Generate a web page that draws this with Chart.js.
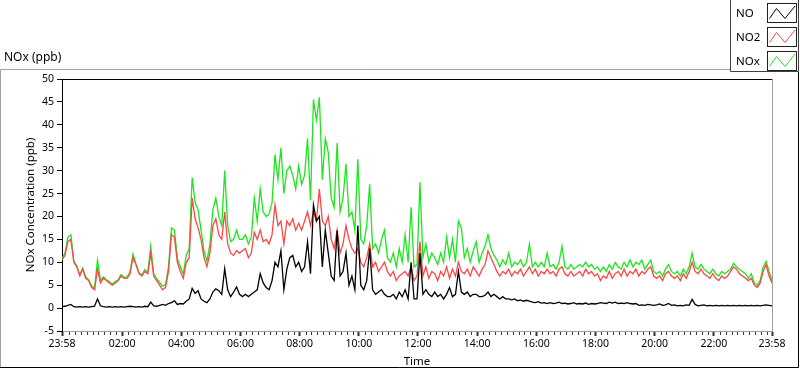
<!DOCTYPE html>
<html>
<head>
<meta charset="utf-8">
<script src="https://cdn.jsdelivr.net/npm/chart.js@4.4.0/dist/chart.umd.min.js"></script>
<style>
  html, body { margin: 0; padding: 0; background: #fff; }
</style>
</head>
<body>
<canvas id="noxChart" width="800" height="369"></canvas>
<script>
// one sample every 6 minutes, starting 23:58
const sampleMinutes = 6;

const tickMinutes = [0, 122, 242, 362, 482, 602, 722, 842, 962, 1082, 1202, 1322, 1440];
const tickLabels = ['23:58', '02:00', '04:00', '06:00', '08:00', '10:00', '12:00',
                    '14:00', '16:00', '18:00', '20:00', '22:00', '23:58'];

const noValues = [
  0.3, 0.4, 0.6, 0.8, 0.3, 0.2, 0.3, 0.2, 0.3, 0.2,
  0.3, 0.4, 2.0, 0.5, 0.3, 0.2, 0.3, 0.2, 0.3, 0.2,
  0.3, 0.2, 0.3, 0.4, 0.3, 0.2, 0.3, 0.2, 0.4, 0.3,
  1.3, 0.5, 0.4, 0.6, 0.8, 0.6, 1.0, 1.2, 1.6, 0.8,
  1.0, 0.9, 1.5, 2.0, 4.3, 3.2, 3.8, 2.0, 1.5, 1.2,
  2.0, 3.5, 4.2, 3.8, 3.0, 8.6, 4.0, 2.5, 3.5, 4.6, 3.0,
  2.5, 3, 2.5, 3, 3.5, 4, 7.5, 5.5, 4.5, 4,
  6, 10, 9, 12.5, 4, 8.5, 11, 11.5, 9, 10,
  8, 9, 14.5, 7.5, 22.5, 19, 20, 9, 17, 12,
  7, 6, 17, 7, 8, 12, 5, 7, 4, 18,
  5, 4, 6, 13, 4, 3, 3.5, 4, 3, 2.5,
  2.5, 3, 2, 3.5, 2.5, 4, 2, 10, 2, 2,
  12, 3, 4, 3, 2.5, 3.5, 2.5, 3, 2, 3,
  4.5, 2.5, 3, 8, 3.5, 3, 3.5, 2.5, 3, 3,
  2.5, 2.5, 2.8, 3.5, 2.5, 3, 2.5, 2, 2.5, 2,
  2, 1.8, 2, 1.6, 1.8, 1.5, 1.7, 1.5, 1.3, 1.2,
  1.4, 1.1, 1.2, 1.0, 1.2, 1.0, 1.1, 1.3, 1.0, 1.1,
  0.9, 1.0, 1.2, 0.9, 1.0, 0.9, 1.1, 0.8, 1.0, 0.9,
  1.0, 1.2, 1.1, 1.0, 1.3, 1.1, 1.3, 1.0, 1.1, 1.0,
  1.2, 1.0, 0.9, 1.0, 0.6, 0.7, 0.6, 0.8, 0.7, 0.6,
  0.7, 0.9, 0.6, 0.7, 1.0, 0.6, 0.7, 0.5, 0.6, 0.5,
  0.7, 0.6, 1.9, 0.8, 0.5, 0.6, 0.7, 0.5, 0.6, 0.5,
  0.6, 0.5, 0.6, 0.5, 0.6, 0.5, 0.6, 0.5, 0.6, 0.5,
  0.6, 0.5, 0.6, 0.5, 0.6, 0.5, 0.6, 0.7, 0.6, 0.5
];

const no2Values = [
  10.5, 11.5, 14.5, 15, 10, 9, 7, 8.5, 6.5, 6,
  4.5, 4, 8.5, 5.5, 6.5, 6, 5.5, 5, 5.5, 6,
  7, 6.5, 6.5, 7.5, 11, 9.5, 7.5, 7, 8, 7.5,
  12, 7, 6, 5, 4, 4.5, 8, 16, 15.5, 10,
  8, 6.5, 10, 11, 24, 19.5, 17.5, 15, 11, 9,
  12, 18, 19.5, 16, 15, 21, 14, 12, 11.5, 12.5, 12,
  12.5, 13, 11, 12, 16.5, 15, 17, 14.5, 15, 14,
  16, 22.5, 18, 19, 14, 19, 18, 19.5, 17, 18.5,
  17, 19, 21, 18, 21, 19, 26, 19, 18, 20,
  15, 13, 17, 12, 14, 18, 15, 13, 12, 13,
  10, 9, 11, 14, 9, 10, 8, 9, 10, 8,
  7, 8, 6, 7, 7.5, 8, 7, 9, 6, 7,
  14.5, 7, 9, 6.5, 8, 7.5, 6, 8, 7, 9,
  6.5, 8.5, 7, 10, 8, 7.5, 8.5, 7, 9, 8,
  7, 8.5, 9.5, 12.5, 11, 9.5, 8, 7, 8, 7.5,
  8.5, 7, 8, 7.5, 8.5, 7, 8, 9, 7.5, 8.5,
  7, 8, 7.5, 8.5, 7.5, 8, 7, 8.5, 9, 7.5,
  7, 8, 7, 7.5, 8, 7, 8.5, 7.5, 8, 7,
  7.5, 6, 7, 6.5, 8, 6.5, 7.5, 8, 7, 8.5,
  7, 8, 7.5, 8.5, 7, 8, 7.5, 8.5, 9, 7,
  6.5, 7, 6, 7.5, 8, 7, 6.5, 7, 6, 7.5,
  6.5, 8, 10, 8, 7.5, 8.5, 7.5, 7, 6.5, 7.5,
  6.5, 6, 7, 6.5, 7, 8, 9, 8.5, 7.5, 7,
  6.5, 6, 6.5, 5, 4.5, 5.5, 8, 9.5, 7, 5.5
];

const noxValues = [
  10.8, 12, 15.5, 16, 10.3, 9.2, 7.3, 8.7, 6.8, 6.2,
  4.8, 4.4, 10.5, 6, 6.8, 6.2, 5.8, 5.2, 5.8, 6.2,
  7.3, 6.7, 6.8, 7.9, 11.8, 9.7, 7.8, 7.2, 8.4, 7.8,
  13.5, 7.5, 6.4, 5.6, 4.8, 5.1, 9, 17.5, 17, 10.8,
  9, 7.4, 11.5, 13, 28.5, 23, 21.5, 17, 12.5, 10.2,
  14, 21.5, 24, 20, 18, 30, 18, 14.5, 15, 17, 15,
  15, 16, 14, 15.5, 24, 19, 26, 21, 20, 20.5,
  23, 33.5, 28, 35, 25, 30, 31, 29, 26, 31,
  27, 29, 37, 23.5, 45.5, 41, 46, 28, 37, 34,
  24, 22, 36, 21, 24, 31.5, 20, 21, 17, 32.5,
  15, 14, 18, 27, 13, 14, 12, 15, 17, 11,
  10, 12, 9, 13, 10, 16, 10, 22, 9, 9.5,
  27.5, 11, 14, 10, 12, 11, 9.5, 12, 10, 15.5,
  11, 15, 10, 19, 17.5, 11, 13, 10, 12.5, 14.5,
  10, 12, 13.5, 16, 13, 11.5, 10.5, 9, 10.5, 9.5,
  12, 9, 10, 9.5, 10.5, 9, 10, 14, 9, 10,
  9, 10, 9, 12, 9, 9.5, 8.5, 10, 13.5, 9,
  8.5, 9.5, 8.5, 9, 9.5, 9, 10, 9, 9.5, 8.5,
  9, 8, 9, 8, 9.5, 8.5, 10, 9, 8.5, 10,
  9, 10.5, 9, 10, 9.5, 10.5, 8.5, 9.5, 10.5, 8,
  7.5, 8, 7, 8.5, 9.5, 8, 7.5, 8, 7, 8.5,
  7.5, 9, 12, 9, 8.5, 9.5, 8.5, 8, 7.5, 8.5,
  7.5, 7, 8, 7.5, 8, 8.5, 9.8, 9, 8.5, 8,
  7.5, 6.5, 7.5, 5.5, 5, 6, 9, 10.2, 8, 6
];

const minutes = noValues.map((_, i) => i * sampleMinutes);

function toPoints(values) {
    return values.map((v, i) => ({ x: minutes[i], y: v }));
}

const fontFamily = '"Noto Sans", "DejaVu Sans", sans-serif';

// outer frame, caption and plot border (LabVIEW style)
const framePlugin = {
    id: 'frame',
    beforeDraw(chart) {
        const ctx = chart.ctx;
        ctx.save();
        ctx.fillStyle = '#ffffff';
        ctx.fillRect(0, 0, chart.width, chart.height);
        ctx.lineWidth = 1;
        ctx.strokeStyle = '#a0a0a0';
        ctx.beginPath();
        ctx.moveTo(0.5, 368);
        ctx.lineTo(0.5, 69.5);
        ctx.lineTo(731, 69.5);
        ctx.stroke();
        ctx.strokeStyle = '#000000';
        ctx.beginPath();
        ctx.moveTo(0, 367.5);
        ctx.lineTo(798.5, 367.5);
        ctx.lineTo(798.5, 70);
        ctx.stroke();
        ctx.fillStyle = '#000000';
        ctx.font = '12px ' + fontFamily;
        ctx.textBaseline = 'middle';
        ctx.textAlign = 'left';
        ctx.fillText('NOx (ppb)', 4, 58);
        ctx.restore();
    },
    afterDraw(chart) {
        const ctx = chart.ctx;
        const a = chart.chartArea;
        ctx.save();
        ctx.lineWidth = 1;
        ctx.strokeStyle = '#000000';
        ctx.beginPath();
        ctx.moveTo(a.left, Math.round(a.top) + 0.5);
        ctx.lineTo(a.right, Math.round(a.top) + 0.5);
        ctx.stroke();
        ctx.strokeStyle = '#a0a0a0';
        ctx.beginPath();
        ctx.moveTo(Math.round(a.right) + 0.5, a.top);
        ctx.lineTo(Math.round(a.right) + 0.5, a.bottom);
        ctx.stroke();
        ctx.restore();
    }
};

// short ticks every 12 minutes between the labelled ones
const minorTickPlugin = {
    id: 'minorTicks',
    afterDraw(chart) {
        const xScale = chart.scales.x;
        const ctx = chart.ctx;
        const y0 = Math.round(xScale.top) + 1;
        ctx.save();
        ctx.strokeStyle = '#333333';
        ctx.lineWidth = 1;
        ctx.beginPath();
        for (let m = 2; m < 1440; m += 12) {
            if (tickMinutes.some(t => Math.abs(t - m) < 4)) continue;
            const px = Math.round(xScale.getPixelForValue(m)) + 0.5;
            ctx.moveTo(px, y0);
            ctx.lineTo(px, y0 + 3);
        }
        ctx.stroke();
        ctx.restore();
    }
};

// legend box at the top right with zigzag swatches
const legendPlugin = {
    id: 'zigzagLegend',
    afterDraw(chart) {
        const ctx = chart.ctx;
        ctx.save();
        ctx.fillStyle = '#ffffff';
        ctx.fillRect(731, 0, 68, 72);
        ctx.strokeStyle = '#404040';
        ctx.lineWidth = 1;
        ctx.beginPath();
        ctx.moveTo(730.5, 0);
        ctx.lineTo(730.5, 71.5);
        ctx.lineTo(798.5, 71.5);
        ctx.lineTo(798.5, 0);
        ctx.stroke();
        chart.data.datasets.forEach((ds, i) => {
            const top = 3 + i * 24;
            ctx.fillStyle = '#000000';
            ctx.font = '11.5px ' + fontFamily;
            ctx.textBaseline = 'middle';
            ctx.textAlign = 'left';
            ctx.fillText(ds.label, 736, top + 10.5);
            ctx.strokeStyle = '#202020';
            ctx.lineWidth = 1;
            ctx.strokeRect(767.5, top + 0.5, 29, 19);
            ctx.strokeStyle = ds.borderColor;
            ctx.beginPath();
            ctx.moveTo(769.5, top + 15.5);
            ctx.lineTo(776.5, top + 5.5);
            ctx.lineTo(785, top + 15.5);
            ctx.lineTo(795, top + 3);
            ctx.stroke();
        });
        ctx.restore();
    }
};

new Chart(document.getElementById('noxChart'), {
    type: 'line',
    data: {
        datasets: [
            {
                label: 'NO',
                data: toPoints(noValues),
                borderColor: '#000000',
                borderWidth: 1.3,
                pointRadius: 0,
                fill: false
            },
            {
                label: 'NO2',
                data: toPoints(no2Values),
                borderColor: '#ff4646',
                borderWidth: 1.3,
                pointRadius: 0,
                fill: false
            },
            {
                label: 'NOx',
                data: toPoints(noxValues),
                borderColor: '#1ee61e',
                borderWidth: 1.3,
                pointRadius: 0,
                fill: false
            }
        ]
    },
    options: {
        responsive: false,
        animation: false,
        layout: {
            padding: { top: 79, right: 28, left: 0, bottom: 0 }
        },
        plugins: {
            legend: { display: false },
            tooltip: { enabled: false }
        },
        scales: {
            x: {
                type: 'linear',
                min: 0,
                max: 1440,
                afterBuildTicks: scale => {
                    scale.ticks = tickMinutes.map(v => ({ value: v }));
                },
                afterFit: scale => {
                    scale.height = 38;
                },
                border: { display: true, color: '#a0a0a0', width: 1 },
                grid: {
                    drawOnChartArea: false,
                    drawTicks: true,
                    tickLength: 5,
                    tickColor: '#333333',
                    tickWidth: 2
                },
                ticks: {
                    autoSkip: false,
                    maxRotation: 0,
                    padding: 2,
                    color: '#000000',
                    font: { family: fontFamily, size: 10.5 },
                    callback: (value, index) => tickLabels[index]
                },
                title: {
                    display: true,
                    text: 'Time',
                    color: '#000000',
                    padding: { top: 0, bottom: 0 },
                    font: { family: fontFamily, size: 11.5 }
                }
            },
            y: {
                min: -5,
                max: 50,
                afterFit: scale => {
                    scale.width = 62;
                },
                border: { display: true, color: '#000000', width: 1 },
                grid: {
                    drawOnChartArea: false,
                    drawTicks: true,
                    tickLength: 5,
                    tickColor: '#000000'
                },
                ticks: {
                    stepSize: 5,
                    padding: 3,
                    color: '#000000',
                    font: { family: fontFamily, size: 10.5 }
                },
                title: {
                    display: true,
                    text: 'NOx Concentration (ppb)',
                    color: '#000000',
                    padding: { top: 24, bottom: 0 },
                    font: { family: fontFamily, size: 11.5 }
                }
            }
        }
    },
    plugins: [framePlugin, minorTickPlugin, legendPlugin]
});
</script>
</body>
</html>
